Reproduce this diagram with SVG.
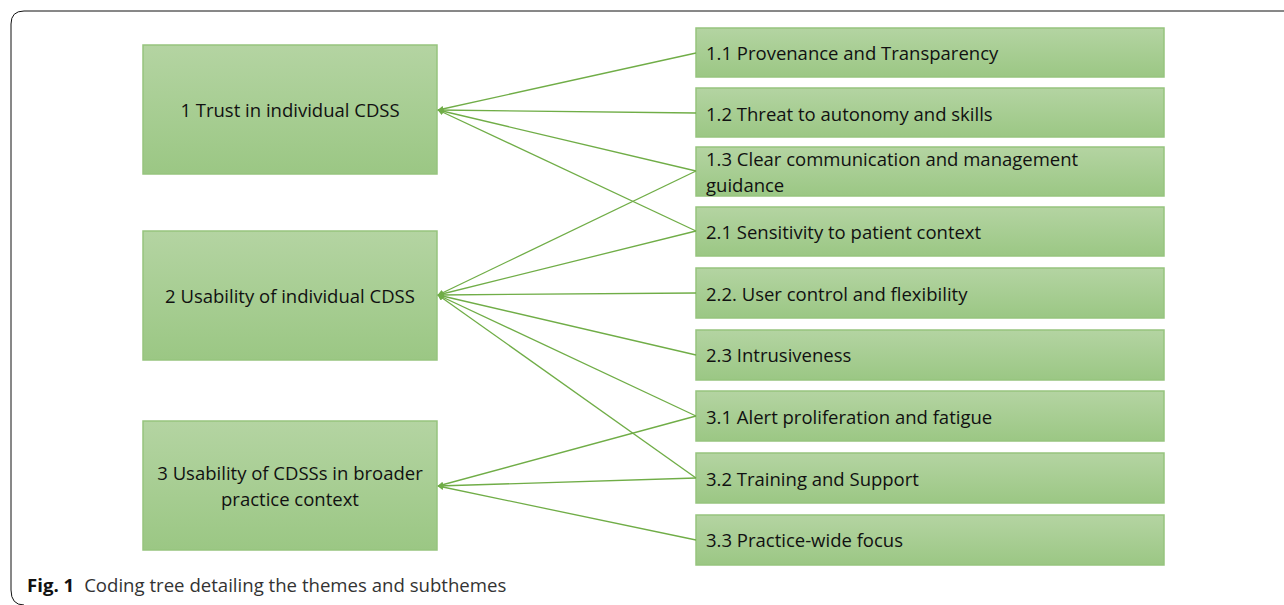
<svg xmlns="http://www.w3.org/2000/svg" width="1284" height="605" viewBox="0 0 1284 605">
<defs>
<linearGradient id="g" x1="0" y1="0" x2="0" y2="1">
<stop offset="0" stop-color="#b4d4a2"/>
<stop offset="1" stop-color="#9bc784"/>
</linearGradient>
<marker id="ah" viewBox="0 0 10 10" refX="9" refY="5" markerWidth="6" markerHeight="6" orient="auto" markerUnits="userSpaceOnUse">
<path d="M0,0 L10,5 L0,10 z" fill="#70ad47"/>
</marker>
<style>
.box{fill:url(#g);stroke:#96c47e;stroke-width:1.5}
.t{font-family:"Open Sans","Liberation Sans",sans-serif;font-size:18.5px;fill:#111}
.c line{stroke:#70ad47;stroke-width:1.3;marker-end:url(#ah)}
.cap{font-family:"Open Sans","Liberation Sans",sans-serif;font-size:18.6px;fill:#333}
</style>
</defs>
<rect width="1284" height="605" fill="#fff"/>
<path d="M1284,11 H24 Q11,11 11,24 V590 Q11,605 24,605" fill="none" stroke="#111" stroke-width="1"/>
<g id="n1"><rect class="box" x="143" y="45" width="294" height="129"/><text class="t" x="290" y="117" text-anchor="middle">1 Trust in individual CDSS</text></g>
<g id="n2"><rect class="box" x="143" y="231" width="294" height="129"/><text class="t" x="290" y="303" text-anchor="middle">2 Usability of individual CDSS</text></g>
<g id="n3"><rect class="box" x="143" y="421" width="294" height="129"/><text class="t" x="290" y="480" text-anchor="middle">3 Usability of CDSSs in broader</text><text class="t" x="290" y="506" text-anchor="middle">practice context</text></g>
<g id="s11"><rect class="box" x="696" y="28" width="468" height="49"/><text class="t" x="706" y="60">1.1 Provenance and Transparency</text></g>
<g id="s12"><rect class="box" x="696" y="88" width="468" height="49"/><text class="t" x="706" y="121">1.2 Threat to autonomy and skills</text></g>
<g id="s13"><rect class="box" x="696" y="147" width="468" height="49"/><text class="t" x="706" y="166">1.3 Clear communication and management</text><text class="t" x="706" y="192">guidance</text></g>
<g id="s21"><rect class="box" x="696" y="207" width="468" height="49"/><text class="t" x="706" y="239">2.1 Sensitivity to patient context</text></g>
<g id="s22"><rect class="box" x="696" y="268" width="468" height="50"/><text class="t" x="706" y="301">2.2. User control and flexibility</text></g>
<g id="s23"><rect class="box" x="696" y="330" width="468" height="50"/><text class="t" x="706" y="362">2.3 Intrusiveness</text></g>
<g id="s31"><rect class="box" x="696" y="391" width="468" height="50"/><text class="t" x="706" y="424">3.1 Alert proliferation and fatigue</text></g>
<g id="s32"><rect class="box" x="696" y="453" width="468" height="50"/><text class="t" x="706" y="486">3.2 Training and Support</text></g>
<g id="s33"><rect class="box" x="696" y="515" width="468" height="50"/><text class="t" x="706" y="547">3.3 Practice-wide focus</text></g>
<g class="c" id="connectors">
<line x1="696" y1="53" x2="438" y2="110"/>
<line x1="696" y1="113" x2="438" y2="110"/>
<line x1="696" y1="171" x2="438" y2="110"/>
<line x1="696" y1="231" x2="438" y2="110"/>
<line x1="696" y1="171" x2="438" y2="295"/>
<line x1="696" y1="231" x2="438" y2="295"/>
<line x1="696" y1="293" x2="438" y2="295"/>
<line x1="696" y1="355" x2="438" y2="295"/>
<line x1="696" y1="416" x2="438" y2="295"/>
<line x1="696" y1="478" x2="438" y2="295"/>
<line x1="696" y1="416" x2="438" y2="486"/>
<line x1="696" y1="478" x2="438" y2="486"/>
<line x1="696" y1="540" x2="438" y2="486"/>
</g>
<text class="cap" x="27" y="592"><tspan font-weight="bold" fill="#111">Fig. 1</tspan><tspan dx="10">Coding tree detailing the themes and subthemes</tspan></text>
</svg>
